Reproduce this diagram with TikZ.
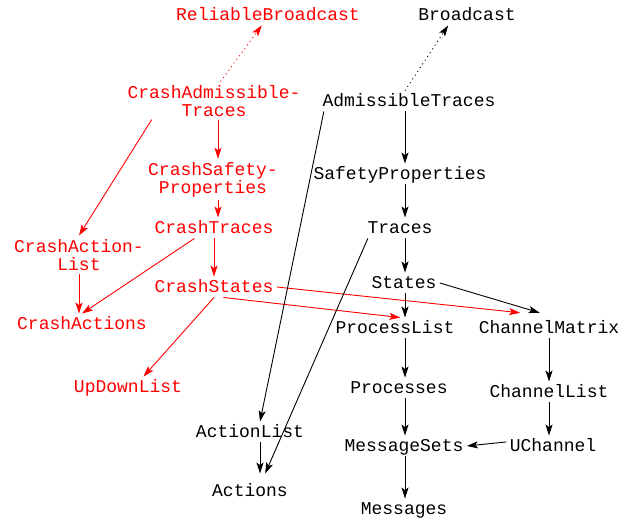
\documentclass[tikz,border=0pt]{standalone}
\usepackage{fontspec}
\setmonofont{Liberation Mono}
\usepackage{tikz}
\usetikzlibrary{arrows.meta}

\begin{document}
\begin{tikzpicture}[x=1pt, y=-1pt, line width=0.9pt,
    >={Stealth[length=11pt,width=7pt,inset=2.5pt]},
    module/.style={font=\ttfamily\fontsize{18}{18}\selectfont,inner sep=3pt,
      text height=12.25pt,text depth=1.75pt},
    twoline/.style={font=\ttfamily\fontsize{18}{18}\selectfont,inner sep=3pt,align=center},
    crash/.style={text=red},
    refines/.style={dash pattern=on 1pt off 3.5pt}]
  \useasboundingbox (0,0) rectangle (628,519);
  % columns the straight arrows run along
  \coordinate (mid) at (405,0);
  \coordinate (chan) at (549,0);
  \coordinate (act) at (260,0);
  \coordinate (ccol) at (218,0);

  % crash-stop side
  \node[module,crash] at (268,15) (rbcast) {ReliableBroadcast};
  \node[twoline,crash] at (214,100.6) (cadm) {CrashAdmissible-\\Traces};
  \node[twoline,crash] at (213,179.6) (csafe) {CrashSafety-\\Properties};
  \node[module,crash] at (214,228) (ctr) {CrashTraces};
  \node[twoline,crash] at (79,254.6) (cact) {CrashAction-\\List};
  \node[module,crash] at (214,287) (cst) {CrashStates};
  \node[module,crash] at (82,324) (cacts) {CrashActions};
  \node[module,crash] at (128,387) (updown) {UpDownList};

  % base model
  \node[module] at (467,15) (bcast) {Broadcast};
  \node[module] at (409,101) (adm) {AdmissibleTraces};
  \node[module] at (400,174) (safe) {SafetyProperties};
  \node[module] at (400,228) (tr) {Traces};
  \node[module] at (404,283) (st) {States};
  \node[module] at (395,328) (plist) {ProcessList};
  \node[module,text height=17pt] at (549,325.6) (cmat) {ChannelMatrix};
  \node[module] at (399,388) (procs) {Processes};
  \node[module] at (549,392) (clist) {ChannelList};
  \node[module] at (250,432) (alist) {ActionList};
  \node[module] at (404,446) (msets) {MessageSets};
  \node[module] at (553,446) (uch) {UChannel};
  \node[module,inner ysep=10pt] at (250,491) (acts) {Actions};
  \node[module] at (404,509) (msgs) {Messages};

  \draw[red,refines,->] (cadm.71) -- (rbcast.239);
  \draw[red,->] (cadm.south -| ccol) -- (csafe.north -| ccol);
  \draw[red,->] (cadm.197) -- (cact.north);
  \draw[red,->] (csafe.south -| ccol) -- (ctr.north -| ccol);
  \draw[red,->] (ctr.208) -- (cacts.north);
  \draw[red,->] (ctr.south) -- (cst.north);
  \draw[red,->] (cact.south) -- (cacts.north -| cact);
  \draw[red,->] (cst.south) -- (updown.34);
  \draw[red,->] (cst.-48) -- (plist.63);
  \draw[red,->] (cst.east) -- (cmat.156);

  \draw[refines,->] (adm.north -| mid) -- (bcast.209);
  \draw[->] (adm.south -| mid) -- (safe.north -| mid);
  \draw[->] (safe.south -| mid) -- (tr.north -| mid);
  \draw[->] (tr.south -| mid) -- (st.north -| mid);
  \draw[->] (st.south -| mid) -- (plist.north -| mid);
  \draw[->] (st.east) -- (cmat.126);
  \draw[->] (plist.south -| mid) -- (procs.north -| mid);
  \draw[->] (procs.south -| mid) -- (msets.north -| mid);
  \draw[->] (msets.south -| mid) -- (msgs.north -| mid);
  \draw[->] (cmat.south -| chan) -- (clist.north -| chan);
  \draw[->] (clist.south -| chan) -- (uch.north -| chan);
  \draw[->] (uch.175) -- (msets.east);
  \draw[->] (adm.187) -- (alist.north -| act);
  \draw[->] (tr.198) -- (acts.49);
  \draw[->] (alist.south -| act) -- (acts.north -| act);
\end{tikzpicture}
\end{document}
